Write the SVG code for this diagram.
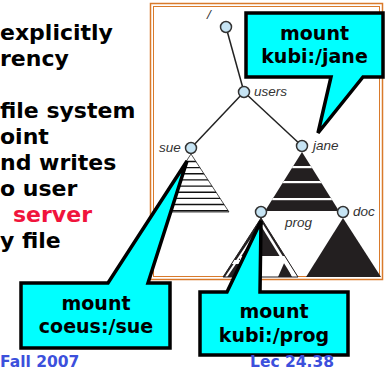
<svg xmlns="http://www.w3.org/2000/svg" width="389" height="370" viewBox="0 0 389 370">
<style>
.body{font-family:"DejaVu Sans",sans-serif;font-weight:bold;font-size:22px;fill:#000}
.red{fill:#f0143c}
.foot{font-family:"DejaVu Sans",sans-serif;font-weight:bold;font-size:15.5px;fill:#3c50dc}
.lbl{font-family:"Liberation Sans",Arial,sans-serif;font-style:italic;font-size:13.5px;fill:#333}
.node{fill:#c6e4f4;stroke:#333;stroke-width:1.5}
.edge{stroke:#222;stroke-width:1.5;fill:none}
.call{fill:#00ffff;stroke:#000;stroke-width:3.5;stroke-linejoin:miter}
.ct{font-family:"DejaVu Sans",sans-serif;font-weight:bold;font-size:19px;fill:#000;text-anchor:middle}
.frame{fill:none;stroke:#d97a2b}
</style>
<defs>
<clipPath id="sueClip"><polygon points="191,154 153,212 229,212"/></clipPath>
<clipPath id="janeClip"><polygon points="302,152 265,211 339,211"/></clipPath>
<clipPath id="progClip"><polygon points="261,218 223,277 298,277"/></clipPath>
</defs>
<rect width="389" height="370" fill="#fff"/>

<g id="text-left">
<text class="body" x="0" y="40">explicitly</text>
<text class="body" x="0" y="66">rency</text>
<text class="body" x="0" y="118">file system</text>
<text class="body" x="0" y="144">oint</text>
<text class="body" x="0" y="170">nd writes</text>
<text class="body" x="0" y="196">o user</text>
<text class="body red" x="13" y="222">server</text>
<text class="body" x="0" y="248">y file</text>
</g>

<g id="frame">
<rect class="frame" x="150.5" y="3.5" width="232" height="276" stroke-width="1.5"/>
<rect class="frame" x="153.5" y="6.5" width="226" height="270" stroke-width="1"/>
</g>

<g id="connectors">
<line class="edge" x1="226" y1="27" x2="244" y2="92"/>
<line class="edge" x1="244" y1="92" x2="191" y2="148"/>
<line class="edge" x1="244" y1="92" x2="302" y2="146"/>
</g>

<g id="sue-subtree">
<polygon points="191,154 153,212 229,212" fill="#fff" stroke="#222" stroke-width="0.8"/>
<g clip-path="url(#sueClip)" stroke="#111" stroke-width="1.4">
<line x1="150" y1="161.5" x2="232" y2="161.5"/>
<line x1="150" y1="167.6" x2="232" y2="167.6"/>
<line x1="150" y1="173.8" x2="232" y2="173.8"/>
<line x1="150" y1="179.9" x2="232" y2="179.9"/>
<line x1="150" y1="186.1" x2="232" y2="186.1"/>
<line x1="150" y1="192.2" x2="232" y2="192.2"/>
<line x1="150" y1="198.4" x2="232" y2="198.4"/>
<line x1="150" y1="204.5" x2="232" y2="204.5"/>
<line x1="150" y1="210.7" x2="232" y2="210.7"/>
</g>
</g>

<g id="jane-subtree">
<polygon points="302,152 265,211 339,211" fill="#231f20"/>
<g clip-path="url(#janeClip)" fill="#fff">
<rect x="260" y="166" width="85" height="2.2"/>
<rect x="260" y="181" width="85" height="2.2"/>
<rect x="260" y="198" width="85" height="2.2"/>
</g>
</g>

<g id="prog-subtree">
<polygon points="261,218 223,277 298,277" fill="#231f20"/>
<g clip-path="url(#progClip)">
<rect x="240" y="256" width="60" height="22" fill="#fff"/>
<polygon points="278,277 292,277 285,261" fill="#231f20"/>
<line x1="262" y1="225" x2="294" y2="277" stroke="#fff" stroke-width="2.5"/>
<line x1="259" y1="228" x2="226" y2="277" stroke="#fff" stroke-width="2"/>
<line x1="222" y1="262" x2="240" y2="262" stroke="#fff" stroke-width="4"/>
</g>
<polygon points="261,218 223,277 298,277" fill="none" stroke="#231f20" stroke-width="1"/>
</g>

<g id="doc-subtree">
<polygon points="343,218 306,277 381,277" fill="#231f20"/>
</g>

<g id="node-root">
<circle class="node" cx="226" cy="27" r="5.5"/>
<text class="lbl" x="207" y="19">/</text>
</g>
<g id="node-users">
<circle class="node" cx="244" cy="92" r="5.5"/>
<text class="lbl" x="254" y="96">users</text>
</g>
<g id="node-sue">
<circle class="node" cx="191" cy="148" r="5.5"/>
<text class="lbl" x="159" y="152">sue</text>
</g>
<g id="node-jane">
<circle class="node" cx="302" cy="146" r="5.5"/>
<text class="lbl" x="313" y="150">jane</text>
</g>
<g id="node-prog">
<circle class="node" cx="261" cy="212" r="5.5"/>
<text class="lbl" x="285" y="227">prog</text>
</g>
<g id="node-doc">
<circle class="node" cx="343" cy="212" r="5.5"/>
<text class="lbl" x="353" y="216">doc</text>
</g>

<g id="callout-jane">
<path class="call" d="M246,13 H383 V77 H363 L318,133 L331,77 H246 Z"/>
<text class="ct" x="314.5" y="40">mount</text>
<text class="ct" x="314.5" y="63">kubi:/jane</text>
</g>
<g id="callout-sue">
<path class="call" d="M21,283 H108 L187,161 L148,283 H170 V348 H21 Z"/>
<text class="ct" x="96" y="310">mount</text>
<text class="ct" x="96" y="333">coeus:/sue</text>
</g>
<g id="callout-prog">
<path class="call" d="M200,292 H227 L261,221 L260,292 H348 V355 H200 Z"/>
<text class="ct" x="274" y="318">mount</text>
<text class="ct" x="274" y="342">kubi:/prog</text>
</g>

<g id="footer">
<text class="foot" x="0" y="367">Fall 2007</text>
<text class="foot" x="250" y="367">Lec 24.38</text>
</g>
</svg>
